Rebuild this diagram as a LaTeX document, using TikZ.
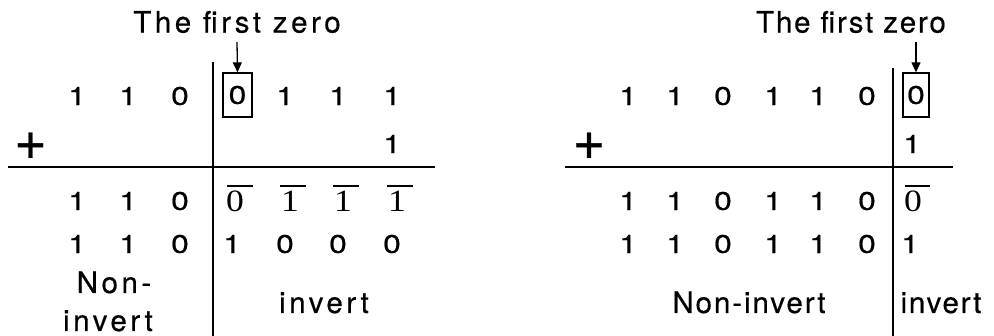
\documentclass[tikz,border=0pt]{standalone}
\usepackage{fontspec}
\setmainfont{TeX Gyre Heros}
\newfontfamily\digfont[FakeStretch=1.25,FakeBold=0.6]{TeX Gyre Heros}
\newfontfamily\sdigfont[FakeStretch=1.15]{Liberation Serif}
\newfontfamily\titlewide[LetterSpace=12,FakeBold=0.5]{TeX Gyre Heros}
\newfontfamily\titlenarrow[LetterSpace=6,FakeBold=0.5]{TeX Gyre Heros}
\newfontfamily\labnarrow[LetterSpace=6.5,FakeBold=0.5]{TeX Gyre Heros}
\newfontfamily\plusfont[FakeBold=0.5]{TeX Gyre Heros}
\usetikzlibrary{arrows.meta}
\tikzset{
  dig/.style={inner sep=0pt, font=\fontsize{25.5}{28}\digfont},
  sdig/.style={inner sep=0pt, font=\fontsize{31}{34}\sdigfont},
  wide/.style={inner sep=0pt, font=\fontsize{29.5}{32}\titlewide},
  narrow/.style={inner sep=0pt, font=\fontsize{29.5}{32}\titlenarrow},
  labn/.style={inner sep=0pt, font=\fontsize{29.5}{32}\labnarrow},
  plus/.style={inner sep=0pt, font=\fontsize{56}{60}\plusfont},
  rule/.style={line width=1.5pt},
  boxd/.style={draw, line width=1.3pt, inner sep=0pt, font=\fontsize{25.5}{28}\digfont},
  arr/.style={line width=1.3pt, -{Triangle[width=9pt,length=10pt]}},
  ovbar/.style={line width=1.8pt}
}
\begin{document}
\begin{tikzpicture}[x=1pt,y=-1pt]
\useasboundingbox (0,0) rectangle (994,336);
% ================= LEFT =================
\node[wide] (Lt) at (237,22) {The first zero};
\coordinate (La) at (237,42);
\node[boxd, minimum width=29pt, minimum height=44pt] (Lb) at (237.5,95) {0};
\draw[arr] (La) -- (Lb.north);
\coordinate (Lv1) at (213,62);
\coordinate (Lv2) at (213,336);
\draw[rule] (Lv1) -- (Lv2);
\coordinate (Lh1) at (8,167);
\coordinate (Lh2) at (435,167);
\draw[rule] (Lh1) -- (Lh2);
% row 1
\node[dig] (L11) at (77,96) {1};
\node[dig] (L12) at (128,96) {1};
\node[dig] (L13) at (180,96) {0};
\node[dig] (L15) at (285,96) {1};
\node[dig] (L16) at (338,96) {1};
\node[dig] (L17) at (392,96) {1};
% row 2
\node[plus] (Lp) at (30.5,146) {+};
\node[dig] (L27) at (392,144) {1};
% row 3
\node[dig] (L31) at (77,201) {1};
\node[dig] (L32) at (128,201) {1};
\node[dig] (L33) at (180,201) {0};
\node[sdig] (L34) at (235,201) {0};
\node[sdig] (L35) at (290,201) {1};
\node[sdig] (L36) at (343,201) {1};
\node[sdig] (L37) at (397,201) {1};
\draw[ovbar] ([xshift=-8pt]L34.center |- 0,186) -- ++(26,0);
\draw[ovbar] ([xshift=-10pt]L35.center |- 0,186) -- ++(26,0);
\draw[ovbar] ([xshift=-10pt]L36.center |- 0,186) -- ++(26,0);
\draw[ovbar] ([xshift=-10pt]L37.center |- 0,186) -- ++(26,0);
% row 4
\node[dig] (L41) at (77,244) {1};
\node[dig] (L42) at (128,244) {1};
\node[dig] (L43) at (180,244) {0};
\node[dig] (L44) at (232,244) {1};
\node[dig] (L45) at (285,244) {0};
\node[dig] (L46) at (338,244) {0};
\node[dig] (L47) at (392,244) {0};
% labels
\node[wide, anchor=base] (Ln1) at (114,293) {Non-};
\node[wide, anchor=base] (Ln2) at (108,331) {invert};
\node[wide, anchor=base] (Li) at (324,313) {invert};
% ================= RIGHT =================
\node[narrow] (Rt) at (851,22) {The first zero};
\coordinate (Ra) at (916,42);
\node[boxd, minimum width=26pt, minimum height=44pt] (Rb) at (916,95) {0};
\draw[arr] (Ra) -- (Rb.north);
\coordinate (Rv1) at (893,68);
\coordinate (Rv2) at (893,336);
\draw[rule] (Rv1) -- (Rv2);
\coordinate (Rh1) at (565,167);
\coordinate (Rh2) at (953,167);
\draw[rule] (Rh1) -- (Rh2);
% row 1
\node[dig] (R11) at (628,96) {1};
\node[dig] (R12) at (675,96) {1};
\node[dig] (R13) at (723,96) {0};
\node[dig] (R14) at (773,96) {1};
\node[dig] (R15) at (818,96) {1};
\node[dig] (R16) at (867,96) {0};
% row 2
\node[plus] (Rp) at (589,146) {+};
\node[dig] (R27) at (912,144) {1};
% row 3
\node[dig] (R31) at (628,201) {1};
\node[dig] (R32) at (675,201) {1};
\node[dig] (R33) at (723,201) {0};
\node[dig] (R34) at (773,201) {1};
\node[dig] (R35) at (818,201) {1};
\node[dig] (R36) at (867,201) {0};
\node[sdig] (R37) at (913,201) {0};
\draw[ovbar] ([xshift=-8pt]R37.center |- 0,186) -- ++(25,0);
% row 4
\node[dig] (R41) at (628,244) {1};
\node[dig] (R42) at (675,244) {1};
\node[dig] (R43) at (723,244) {0};
\node[dig] (R44) at (773,244) {1};
\node[dig] (R45) at (818,244) {1};
\node[dig] (R46) at (867,244) {0};
\node[dig] (R47) at (910,244) {1};
% labels
\node[labn, anchor=base] (Rn) at (749,313) {Non-invert};
\node[narrow, anchor=base] (Ri) at (941,313) {invert};
\end{tikzpicture}
\end{document}
